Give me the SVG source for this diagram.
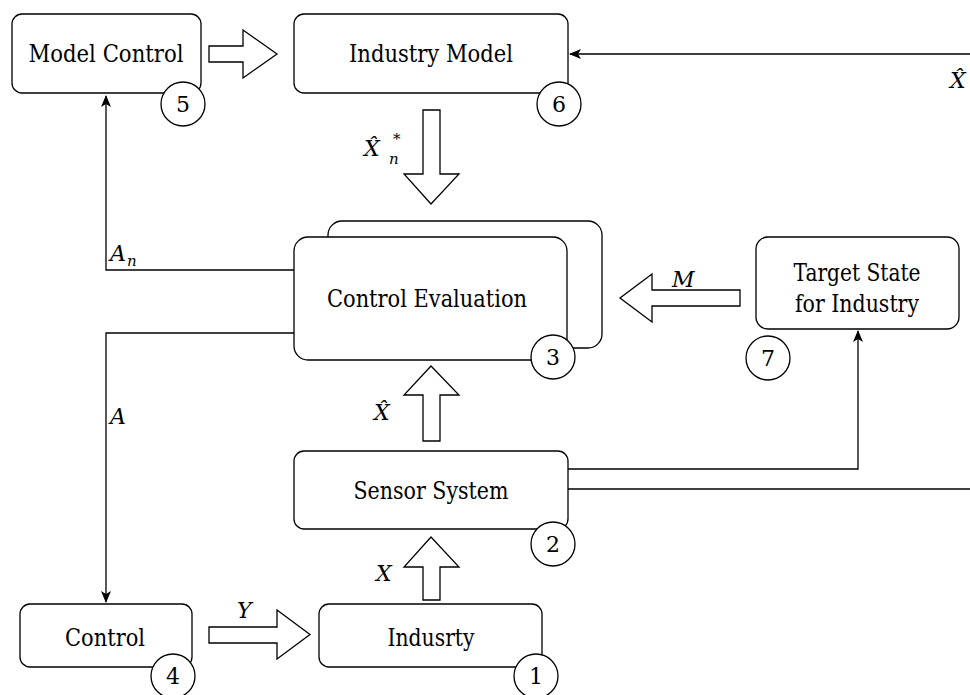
<svg xmlns="http://www.w3.org/2000/svg" width="970" height="695" viewBox="0 0 970 695">
<defs>
<marker id="ah" viewBox="0 0 12 10" refX="11" refY="5" markerWidth="12" markerHeight="10" markerUnits="userSpaceOnUse" orient="auto">
<path d="M0,0 L12,5 L0,10 L3,5 Z" fill="#000"/>
</marker>
</defs>
<style>
.box{fill:#fff;stroke:#000;stroke-width:1.3}
.num{fill:#fff;stroke:#000;stroke-width:1.3}
.t{font-size:24px;fill:#000;text-anchor:middle}
.n{font-size:22px;fill:#000;text-anchor:middle}
.m{font-size:22px;font-style:italic;fill:#000}
.ms{font-size:15px;font-style:italic;fill:#000}
.line{fill:none;stroke:#000;stroke-width:1.3}
.ha{fill:#fff;stroke:#000;stroke-width:1.3;stroke-linejoin:miter}
</style>
<g id="connectors">
<path class="line" d="M294,270 H106 V96" marker-end="url(#ah)"/>
<path class="line" d="M294,333 H106 V602" marker-end="url(#ah)"/>
<path class="line" d="M970,54 H570" marker-end="url(#ah)"/>
<path class="line" d="M568,469 H858 V331" marker-end="url(#ah)"/>
<path class="line" d="M568,489 H970"/>
<polygon class="ha" points="209,46 243,46 243,30 277,54 243,78 243,62 209,62"/>
<polygon class="ha" points="423,110 440,110 440,174 459,174 431,204 404,174 423,174"/>
<polygon class="ha" points="740,290 652,290 652,274 620,298 652,322 652,306 740,306"/>
<polygon class="ha" points="423,441 423,395 404,395 431,366 459,395 440,395 440,441"/>
<polygon class="ha" points="423,600 423,567 404,567 431,537 459,567 440,567 440,600"/>
<polygon class="ha" points="209,627 277,627 277,610 310,634.5 277,659 277,643 209,643"/>
<text class="m" font-family="DejaVu Serif, serif" x="110" y="261">A</text><text class="ms" font-family="DejaVu Serif, serif" x="127" y="266">n</text>
<text class="m" font-family="DejaVu Serif, serif" x="110" y="424">A</text>
<text class="m" font-family="DejaVu Serif, serif" x="237" y="618">Y</text>
<text class="m" font-family="DejaVu Serif, serif" x="672" y="287">M</text>
<text class="m" font-family="DejaVu Serif, serif" x="376" y="581">X</text>
<text class="m" font-family="DejaVu Serif, serif" x="374" y="420">X&#770;</text>
<text class="m" font-family="DejaVu Serif, serif" x="364" y="156">X&#770;</text><text class="ms" font-family="DejaVu Serif, serif" x="393" y="144">*</text><text class="ms" font-family="DejaVu Serif, serif" x="389" y="164">n</text>
<text class="m" font-family="DejaVu Serif, serif" x="950" y="88">X&#770;</text>
</g>
<g id="model-control">
<rect class="box" x="12" y="14" width="189" height="79" rx="10"/>
<text class="t" font-family="DejaVu Serif, serif" x="106" y="62" textLength="155" lengthAdjust="spacingAndGlyphs">Model Control</text>
<circle class="num" cx="183" cy="104" r="22"/><text class="n" font-family="DejaVu Serif, serif" x="183" y="112">5</text>
</g>
<g id="industry-model">
<rect class="box" x="294" y="14" width="274" height="79" rx="10"/>
<text class="t" font-family="DejaVu Serif, serif" x="431" y="62" textLength="164" lengthAdjust="spacingAndGlyphs">Industry Model</text>
<circle class="num" cx="559" cy="104" r="22"/><text class="n" font-family="DejaVu Serif, serif" x="559" y="112">6</text>
</g>
<g id="control-evaluation">
<rect class="box" x="328" y="221" width="274" height="127" rx="14"/>
<rect class="box" x="294" y="237" width="273" height="123" rx="14"/>
<text class="t" font-family="DejaVu Serif, serif" x="427" y="307" textLength="200" lengthAdjust="spacingAndGlyphs">Control Evaluation</text>
<circle class="num" cx="553" cy="357" r="22"/><text class="n" font-family="DejaVu Serif, serif" x="553" y="365">3</text>
</g>
<g id="target-state">
<rect class="box" x="756" y="237" width="203" height="92" rx="12"/>
<text class="t" font-family="DejaVu Serif, serif" x="857" y="281" textLength="127" lengthAdjust="spacingAndGlyphs">Target State</text>
<text class="t" font-family="DejaVu Serif, serif" x="857" y="312" textLength="124" lengthAdjust="spacingAndGlyphs">for Industry</text>
<circle class="num" cx="768" cy="358" r="22"/><text class="n" font-family="DejaVu Serif, serif" x="768" y="366">7</text>
</g>
<g id="sensor-system">
<rect class="box" x="294" y="451" width="274" height="78" rx="10"/>
<text class="t" font-family="DejaVu Serif, serif" x="431" y="499" textLength="155" lengthAdjust="spacingAndGlyphs">Sensor System</text>
<circle class="num" cx="553" cy="544" r="22"/><text class="n" font-family="DejaVu Serif, serif" x="553" y="552">2</text>
</g>
<g id="control">
<rect class="box" x="20" y="604" width="172" height="63" rx="10"/>
<text class="t" font-family="DejaVu Serif, serif" x="105" y="646" textLength="80" lengthAdjust="spacingAndGlyphs">Control</text>
<circle class="num" cx="173" cy="676" r="22"/><text class="n" font-family="DejaVu Serif, serif" x="173" y="684">4</text>
</g>
<g id="industry">
<rect class="box" x="319" y="604" width="223" height="63" rx="10"/>
<text class="t" font-family="DejaVu Serif, serif" x="431" y="646" textLength="87" lengthAdjust="spacingAndGlyphs">Indusrty</text>
<circle class="num" cx="536" cy="676" r="22"/><text class="n" font-family="DejaVu Serif, serif" x="536" y="684">1</text>
</g>
</svg>
